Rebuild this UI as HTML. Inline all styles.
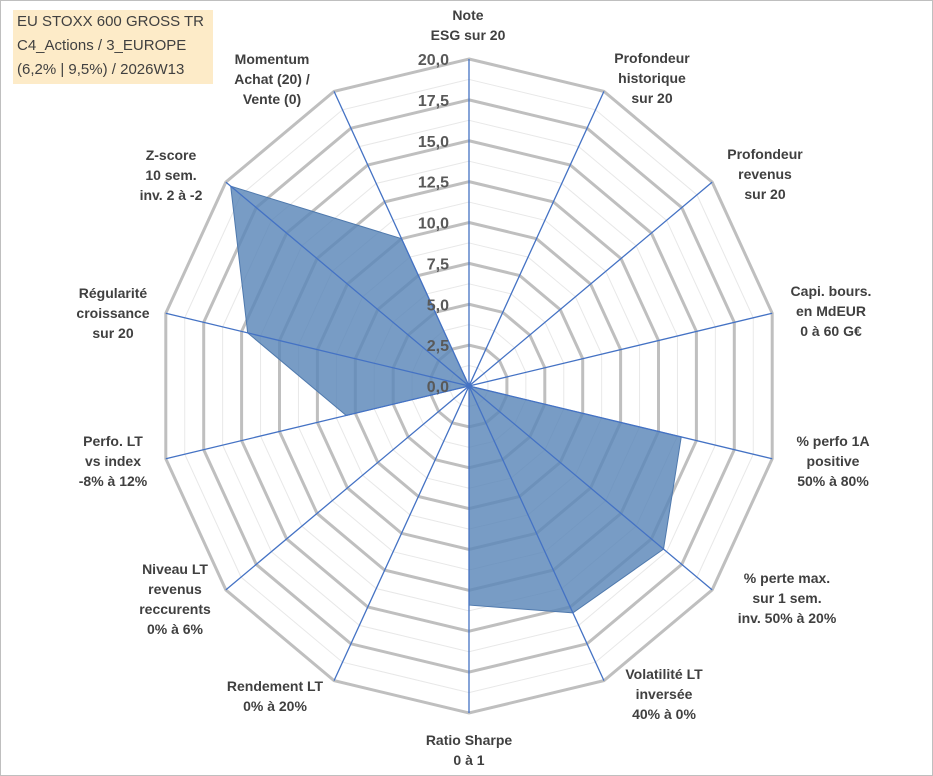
<!DOCTYPE html>
<html><head><meta charset="utf-8"><style>
body{margin:0;background:#fff;font-family:"Liberation Sans",sans-serif}
#wrap{position:relative;width:933px;height:776px;overflow:hidden}
.lbl{position:absolute;font-weight:bold;font-size:14px;color:#404040;text-align:center;line-height:20px;white-space:nowrap;transform:translateX(-50%)}
</style></head><body>
<div id="wrap">
<svg id="svg" width="933" height="776" style="position:absolute;left:0;top:0">
<rect x="0.5" y="0.5" width="932" height="775" fill="#fff" stroke="#bfbfbf"/>
</svg>
<div style="position:absolute;left:13px;top:10px;width:196px;height:74px;background:#fdebc8;font-size:15px;color:#404040;line-height:24px;padding-left:4px;font-family:'Liberation Sans Narrow','Liberation Sans',sans-serif">EU STOXX 600 GROSS TR<br>C4_Actions / 3_EUROPE<br>(6,2% | 9,5%) / 2026W13</div>
<div class="lbl" style="left:468px;top:5px">Note<br>ESG sur 20</div>
<div class="lbl" style="left:652px;top:48px">Profondeur<br>historique<br>sur 20</div>
<div class="lbl" style="left:765px;top:144px">Profondeur<br>revenus<br>sur 20</div>
<div class="lbl" style="left:831px;top:281px">Capi. bours.<br>en MdEUR<br>0 à 60 G€</div>
<div class="lbl" style="left:833px;top:431px">% perfo 1A<br>positive<br>50% à 80%</div>
<div class="lbl" style="left:787px;top:568px">% perte max.<br>sur 1 sem.<br>inv. 50% à 20%</div>
<div class="lbl" style="left:664px;top:664px">Volatilité LT<br>inversée<br>40% à 0%</div>
<div class="lbl" style="left:469px;top:730px">Ratio Sharpe<br>0 à 1</div>
<div class="lbl" style="left:275px;top:676px">Rendement LT<br>0% à 20%</div>
<div class="lbl" style="left:175px;top:559px">Niveau LT<br>revenus<br>reccurents<br>0% à 6%</div>
<div class="lbl" style="left:113px;top:431px">Perfo. LT<br>vs index<br>-8% à 12%</div>
<div class="lbl" style="left:113px;top:283px">Régularité<br>croissance<br>sur 20</div>
<div class="lbl" style="left:171px;top:145px">Z-score<br>10 sem.<br>inv. 2 à -2</div>
<div class="lbl" style="left:272px;top:49px">Momentum<br>Achat (20) /<br>Vente (0)</div>
</div>
<script>
const categories=["Note ESG","Profondeur historique","Profondeur revenus","Capi","% perfo 1A","% perte max","Volatilité LT","Ratio Sharpe","Rendement LT","Niveau LT","Perfo LT","Régularité","Z-score","Momentum"];
const values=[0,0,0,0,14.0,16.0,15.4,13.4,0,0,8.1,14.6,19.6,10];
const tickLabels=["0,0","2,5","5,0","7,5","10,0","12,5","15,0","17,5","20,0"];
const maxVal=20;
const cx=469,cy=386,RX=311,RY=327;
const svg=document.getElementById('svg');const NS='http://www.w3.org/2000/svg';
const n=categories.length;
function pt(i,v){const a=2*Math.PI*i/n;const f=v/maxVal;return [cx+f*RX*Math.sin(a),cy-f*RY*Math.cos(a)];}
function mk(t,at){const e=document.createElementNS(NS,t);for(const k in at)e.setAttribute(k,at[k]);svg.appendChild(e);return e;}
for(let k=1;k<=16;k++){const v=k*1.25;const pts=[];for(let i=0;i<n;i++)pts.push(pt(i,v).join(','));
const major=k%2==0;const g=mk('polygon',{points:pts.join(' '),fill:'none',stroke:major?'#bfbfbf':'#e8e8e8','stroke-width':major?3:1});

}
const sp=values.map((v,i)=>pt(i,v).join(',')).join(' ');
const poly=mk('polygon',{points:sp,fill:'#5a86b8','fill-opacity':0.82,stroke:'#4f79ad','stroke-width':1});


for(let i=0;i<n;i++){const p=pt(i,maxVal);const l=mk('line',{x1:cx,y1:cy,x2:p[0],y2:p[1],stroke:'#4472c4','stroke-width':1.3});

}
tickLabels.forEach((t,k)=>{const y=cy-(k*2.5)/maxVal*RY;const e=mk('text',{x:449,y:y+6,'text-anchor':'end','font-size':16,'font-weight':'bold',fill:'#595959','font-family':'Liberation Sans, sans-serif'});e.textContent=t;

});
</script>
</body></html>
